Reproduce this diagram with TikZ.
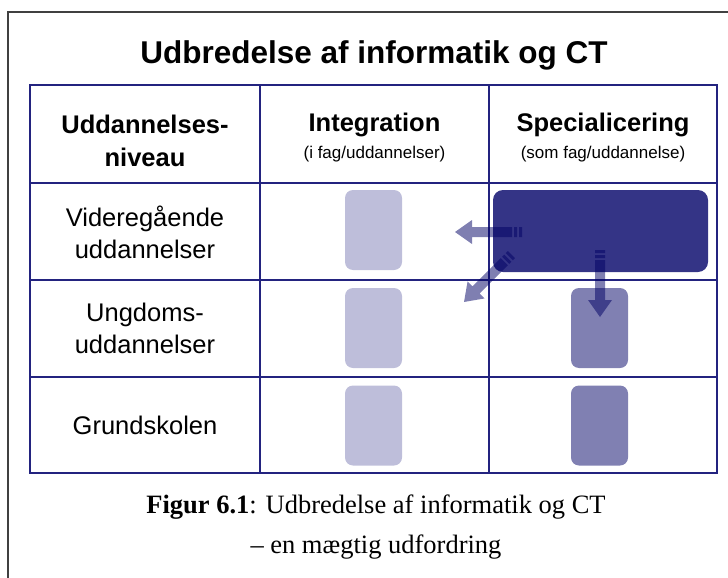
\documentclass[tikz,border=0pt]{standalone}
\usepackage{fontspec}
\setmainfont{Liberation Sans}
\newfontfamily\capfont{Liberation Serif}
\definecolor{tblue}{HTML}{23237F}
\definecolor{vlight}{HTML}{BEBEDA}
\definecolor{vmid}{HTML}{8080B2}
\definecolor{vdark}{HTML}{343486}
\definecolor{arrblue}{HTML}{000064}
\tikzset{
  grid/.style={draw=tblue,line width=1.2pt},
  cellbox/.style={rounded corners=8pt,minimum width=57pt,minimum height=80pt,inner sep=0pt},
  lightb/.style={cellbox,fill=vlight},
  midb/.style={cellbox,fill=vmid},
  darkb/.style={fill=vdark,rounded corners=10pt,minimum width=215pt,minimum height=82pt,inner sep=0pt},
  hd/.style={font=\fontsize{25.5}{33}\selectfont\bfseries,align=center},
  sub/.style={font=\fontsize{17}{20}\selectfont},
  rowlbl/.style={font=\fontsize{25.5}{32}\selectfont,align=center},
  pics/fatarrow/.style={code={
    \fill[arrblue,fill opacity=.5] (0,-5) rectangle (3,5) (5,-5) rectangle (8,5)
      (10,-5) -- (50,-5) -- (50,-12) -- (67,0) -- (50,12) -- (50,5) -- (10,5) -- cycle;}},
}

\begin{document}
\begin{tikzpicture}[x=1pt,y=-1pt]
  \useasboundingbox (0,0) rectangle (728,578);
  \draw[line width=1.5pt,draw=black!75] (728,12) -- (8,12) -- (8,578);
  \node[font=\fontsize{31.5}{34}\selectfont\bfseries] (title) at (374,55) {Udbredelse af informatik og CT};
  % table grid
  \draw[grid] (30,85) rectangle (717,473);
  \foreach \x in {260,489} \draw[grid] (\x,85) -- (\x,473);
  \foreach \y in {183,280,377} \draw[grid] (30,\y) -- (717,\y);
  % header row
  \node[hd] (hlevel) at (145,141) {Uddannelses-\\niveau};
  \node[hd] (hint) at (374.5,125) {Integration};
  \node[sub] (hintsub) at (374.5,154) {(i fag/uddannelser)};
  \node[hd] (hspec) at (603,125) {Specialicering};
  \node[sub] (hspecsub) at (603,154) {(som fag/uddannelse)};
  % row labels
  \node[rowlbl] (rvid) at (145,232) {Videregående\\uddannelser};
  \node[rowlbl] (rung) at (145,328) {Ungdoms-\\uddannelser};
  \node[rowlbl] (rgrund) at (145,425) {Grundskolen};
  % blocks
  \node[lightb] (int1) at (373.5,230) {};
  \node[lightb] (int2) at (373.5,328) {};
  \node[lightb] (int3) at (373.5,425.5) {};
  \node[darkb] (spec1) at (600.5,231) {};
  \node[midb] (spec2) at (599.5,328) {};
  \node[midb] (spec3) at (599.5,425.5) {};
  % arrows
  \coordinate (tleft) at (522,232);
  \coordinate (tdiag) at (511.4,254.6);
  \coordinate (tdown) at (600,250);
  \pic[rotate=180] at (tleft) {fatarrow};
  \pic[rotate=225] at (tdiag) {fatarrow};
  \pic[rotate=-90] at (tdown) {fatarrow};
  % caption
  \node[font=\capfont\fontsize{26.5}{40}\selectfont,align=center] (cap) at (376,527)
    {\textbf{Figur 6.1}: Udbredelse af informatik og CT\\– en mægtig udfordring};
\end{tikzpicture}
\end{document}
